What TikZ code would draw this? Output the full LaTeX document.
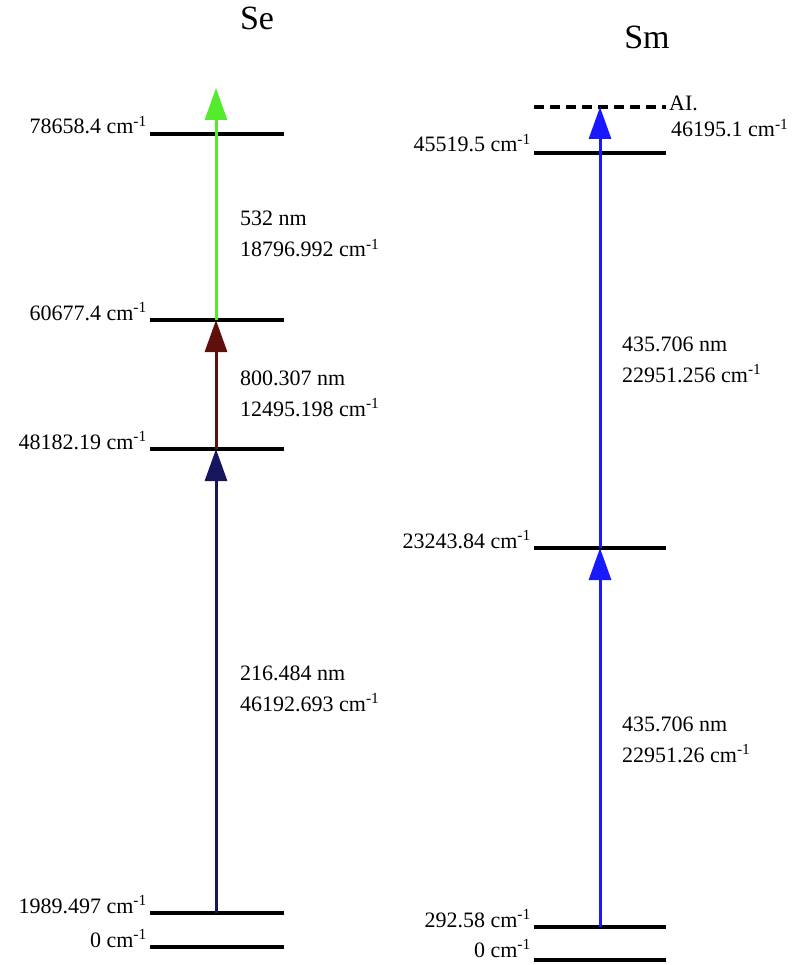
\documentclass[tikz,border=0pt]{standalone}
\usepackage{fontspec}
\setmainfont{Liberation Serif}
\usetikzlibrary{arrows.meta}
\definecolor{segreen}{RGB}{85,235,45}
\definecolor{sered}{RGB}{95,15,12}
\definecolor{senavy}{RGB}{22,22,95}
\definecolor{smblue}{RGB}{25,25,255}
\begin{document}
\begin{tikzpicture}[x=1pt,y=-1pt,
		level/.style={line width=3.8pt},
		ailevel/.style={line width=3.8pt,dash pattern=on 10pt off 6pt},
		lvlab/.style={anchor=base east,inner sep=0pt,font=\fontsize{22}{26}\selectfont},
		trlab/.style={anchor=base west,inner sep=0pt,font=\fontsize{22}{26}\selectfont},
		title/.style={anchor=base,inner sep=0pt,font=\fontsize{34}{40}\selectfont},
		trans/.style={line width=3pt,-{Triangle[length=32pt,width=22pt]}}]
			\useasboundingbox (0,0) rectangle (794,965);
			%Se
			\node[title] (seT) at (257,30) {Se};
			\coordinate (se0L) at (150,947); \coordinate (se0R) at (284,947);
			\coordinate (se1L) at (150,913); \coordinate (se1R) at (284,913);
			\coordinate (se2L) at (150,449); \coordinate (se2R) at (284,449);
			\coordinate (se3L) at (150,320); \coordinate (se3R) at (284,320);
			\coordinate (se4L) at (150,134); \coordinate (se4R) at (284,134);
			\draw[level] (se0L)--(se0R);
			\draw[level] (se1L)--(se1R);
			\draw[level] (se2L)--(se2R);
			\draw[level] (se3L)--(se3R);
			\draw[level] (se4L)--(se4R);
			\node[lvlab] (se0) at (147,947) {0 cm\textsuperscript{-1}};
			\node[lvlab] (se1) at (147,913) {1989.497 cm\textsuperscript{-1}};
			\node[lvlab] (se2) at (147,449) {48182.19 cm\textsuperscript{-1}};
			\node[lvlab] (se3) at (147,320) {60677.4 cm\textsuperscript{-1}};
			\node[lvlab] (se4) at (147,134) {78658.4 cm\textsuperscript{-1}};
			\coordinate (seA1) at (216,913);
			\coordinate (seA2) at (216,449);
			\coordinate (seA3) at (216,320);
			\coordinate (seA4) at (216,88);
			\draw[trans,senavy] (seA1)--(seA2);
			\draw[trans,sered] (seA2)--(seA3);
			\draw[trans,segreen] (seA3)--(seA4);
			\node[trlab] (seL1a) at (240,680) {216.484 nm};
			\node[trlab] (seL1b) at (240,711) {46192.693 cm\textsuperscript{-1}};
			\node[trlab] (seL2a) at (240,385) {800.307 nm};
			\node[trlab] (seL2b) at (240,416) {12495.198 cm\textsuperscript{-1}};
			\node[trlab] (seL3a) at (240,226) {532 nm};
			\node[trlab] (seL3b) at (240,257) {18796.992 cm\textsuperscript{-1}};
			%Sm
			\node[title] (smT) at (647,49) {Sm};
			\coordinate (sm0L) at (534,960); \coordinate (sm0R) at (666,960);
			\coordinate (sm1L) at (534,927); \coordinate (sm1R) at (666,927);
			\coordinate (sm2L) at (534,548); \coordinate (sm2R) at (666,548);
			\coordinate (sm3L) at (534,153); \coordinate (sm3R) at (666,153);
			\coordinate (smAIL) at (534,107); \coordinate (smAIR) at (666,107);
			\draw[level] (sm0L)--(sm0R);
			\draw[level] (sm1L)--(sm1R);
			\draw[level] (sm2L)--(sm2R);
			\draw[level] (sm3L)--(sm3R);
			\draw[ailevel] (smAIL)--(smAIR);
			\node[lvlab] (sm0) at (531,957) {0 cm\textsuperscript{-1}};
			\node[lvlab] (sm1) at (531,927) {292.58 cm\textsuperscript{-1}};
			\node[lvlab] (sm2) at (531,548) {23243.84 cm\textsuperscript{-1}};
			\node[lvlab] (sm3) at (531,152) {45519.5 cm\textsuperscript{-1}};
			\node[trlab] (smAI) at (669,111) {AI.};
			\node[trlab] (smAIv) at (671,137) {46195.1 cm\textsuperscript{-1}};
			\coordinate (smA1) at (600,927);
			\coordinate (smA2) at (600,548);
			\coordinate (smA3) at (600,107);
			\draw[trans,smblue] (smA1)--(smA2);
			\draw[trans,smblue] (smA2)--(smA3);
			\node[trlab] (smL1a) at (622,731) {435.706 nm};
			\node[trlab] (smL1b) at (622,762) {22951.26 cm\textsuperscript{-1}};
			\node[trlab] (smL2a) at (622,351) {435.706 nm};
			\node[trlab] (smL2b) at (622,382) {22951.256 cm\textsuperscript{-1}};
		\end{tikzpicture}
\end{document}
